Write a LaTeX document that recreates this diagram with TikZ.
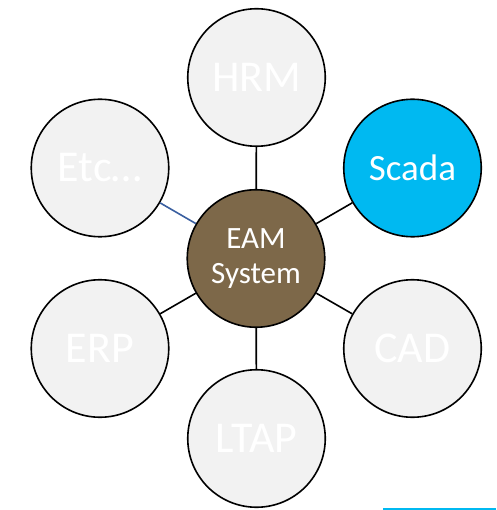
\documentclass[tikz,border=0pt]{standalone}
\usepackage{fontspec}
\setmainfont{Carlito}
\definecolor{lgray}{HTML}{F2F2F2}
\definecolor{sblue}{HTML}{00B9F1}
\definecolor{eambrown}{HTML}{7D6849}
\definecolor{linkblue}{HTML}{3A5FA0}
\begin{document}
\begin{tikzpicture}[x=1pt,y=-1pt,
  sat/.style={circle,draw=black,line width=1.6pt,fill=lgray,minimum size=137.5pt,inner sep=0pt,text=white,font=\fontsize{44}{48}\selectfont},
  hub/.style={sat,fill=eambrown,align=center,font=\fontsize{31}{35}\selectfont},
  link/.style={line width=1.6pt,draw=black}]
\useasboundingbox (0,0) rectangle (496,510);
\node[hub] (eam) at (256,258.5) {EAM\\System};
\node[sat] (hrm) at (256.5,77.5) {HRM};
\node[sat,fill=sblue,font=\fontsize{37}{40}\selectfont] (scada) at (412.5,168) {Scada};
\node[sat] (etc) at (100,168) {Etc…};
\node[sat] (erp) at (100,348.5) {ERP};
\node[sat] (cad) at (412.5,348.5) {CAD};
\node[sat] (ltap) at (256.5,438.5) {LTAP};
\draw[link] (eam) -- (hrm);
\draw[link] (eam) -- (scada);
\draw[link] (eam) -- (cad);
\draw[link] (eam) -- (ltap);
\draw[link] (eam) -- (erp);
\draw[link,draw=linkblue] (eam) -- (etc);
\coordinate (bl) at (383,509);
\coordinate (br) at (496,509);
\draw[line width=1.6pt,draw=sblue] (bl) -- (br);
\end{tikzpicture}
\end{document}
